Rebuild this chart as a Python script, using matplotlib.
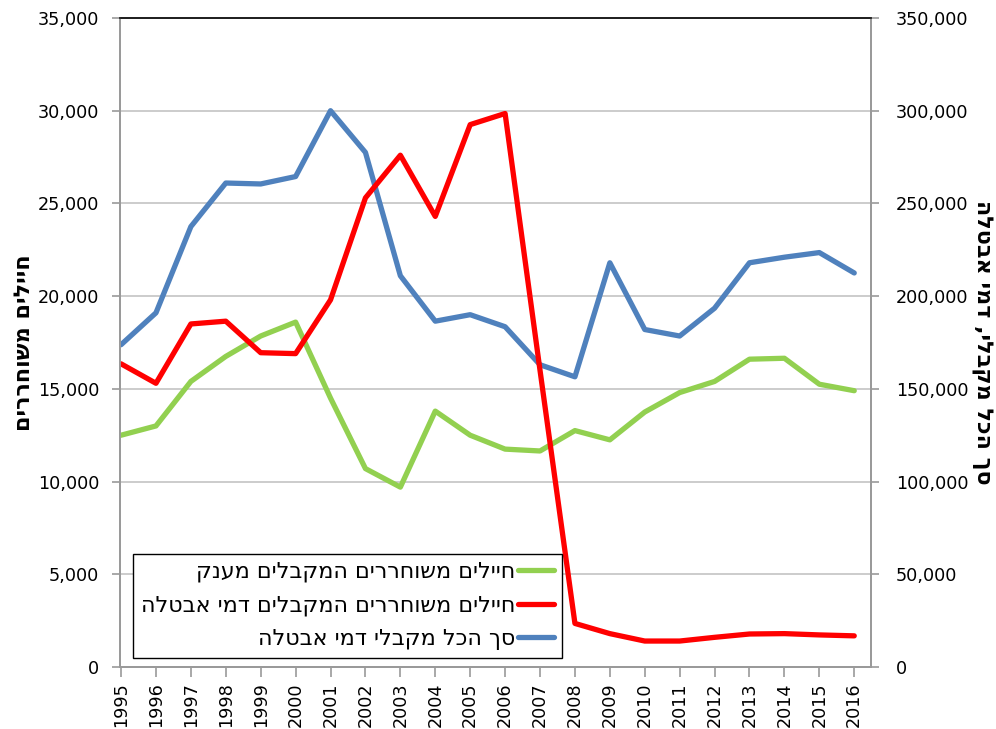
import matplotlib
matplotlib.use("Agg")
import matplotlib.pyplot as plt
from matplotlib.ticker import FuncFormatter, MultipleLocator

plt.rcParams['font.family'] = ['DejaVu Sans']

# Data
years = list(range(1995, 2017))

# discharged soldiers receiving grant (left axis)
grant = [12500, 13000, 15400, 16750, 17850, 18600, 14500, 10700, 9700, 13800, 12500,
         11750, 11650, 12750, 12250, 13750, 14800, 15400, 16600, 16650, 15250, 14900]

# discharged soldiers receiving unemployment benefit (left axis)
unemp_soldiers = [16350, 15300, 18500, 18650, 16950, 16900, 19800, 25300, 27600, 24300, 29250,
                  29850, 16000, 2350, 1800, 1400, 1400, 1600, 1780, 1800, 1730, 1680]

# total unemployment benefit recipients (right axis)
unemp_total = [173800, 191000, 237500, 261000, 260500, 264500, 300000, 277500, 211000, 186500,
               190000, 183500, 163000, 156500, 218000, 182000, 178500, 193500, 218000, 221000,
               223500, 212500]

labels = ['חיילים משוחררים המקבלים מענק',
          'חיילים משוחררים המקבלים דמי אבטלה',
          'סך הכל מקבלי דמי אבטלה']
left_title = 'חיילים משוחררים'
right_title = 'סך הכל מקבלי, דמי אבטלה'

colors = ['#92D050', '#FF0000', '#4F81BD']


def rtl(s):
    # matplotlib has no bidi support, so flip Hebrew to visual order
    return s[::-1]


fig = plt.figure(figsize=(9.96, 7.29), dpi=100)
W, H = 996, 729
ax = fig.add_axes([120 / W, 1 - 667 / H, (871 - 120) / W, (667 - 18) / H])
ax2 = ax.twinx()

# right axis below so its gridlines and the blue line sit under green/red
ax.set_zorder(ax2.get_zorder() + 1)
ax.patch.set_visible(False)

lw = 3.8
l3, = ax2.plot(years, unemp_total, color=colors[2], lw=lw, solid_capstyle='round',
               solid_joinstyle='round', label=rtl(labels[2]))
l1, = ax.plot(years, grant, color=colors[0], lw=lw, solid_capstyle='round',
              solid_joinstyle='round', label=rtl(labels[0]))
l2, = ax.plot(years, unemp_soldiers, color=colors[1], lw=lw, solid_capstyle='round',
              solid_joinstyle='round', label=rtl(labels[1]))

ax.set_xlim(1995 - 0.03, 2016.48)
ax.set_ylim(0, 35000)
ax2.set_ylim(0, 350000)
ax.yaxis.set_major_locator(MultipleLocator(5000))
ax2.yaxis.set_major_locator(MultipleLocator(50000))
fmt = FuncFormatter(lambda v, p: f'{int(v):,}')
ax.yaxis.set_major_formatter(fmt)
ax2.yaxis.set_major_formatter(fmt)

ax.set_xticks(years)
ax.set_xticklabels([str(y) for y in years], rotation=90)

grid_c = '#BEBEBE'
spine_c = '#9A9A9A'
ax2.grid(axis='y', color=grid_c, lw=1.1)
ax2.set_axisbelow(True)

for a in (ax, ax2):
    for side in ('left', 'right', 'bottom'):
        a.spines[side].set_color(spine_c)
        a.spines[side].set_linewidth(1.3)
    a.spines['top'].set_color('#202020')
    a.spines['top'].set_linewidth(1.3)
    a.tick_params(colors=spine_c, labelcolor='black', labelsize=12.7, width=1.2)

ax.tick_params(axis='y', length=6, pad=9)
ax2.tick_params(axis='y', length=6, pad=12)
ax.tick_params(axis='x', length=7, pad=4)

ax.set_ylabel(rtl(left_title), fontsize=16, fontweight='bold', labelpad=3)
ax2.set_ylabel(rtl(right_title), fontsize=16, fontweight='bold', rotation=270, labelpad=17)

leg = ax.legend(handles=[l1, l2, l3], loc='lower left', bbox_to_anchor=(0.017, 0.014),
                borderaxespad=0, markerfirst=False, fontsize=16, fancybox=False,
                edgecolor='black', framealpha=1, handlelength=1.6, handletextpad=0.15,
                labelspacing=0.6, borderpad=0.35)
leg.get_frame().set_linewidth(1.0)

fig.savefig('out.png', dpi=100)
